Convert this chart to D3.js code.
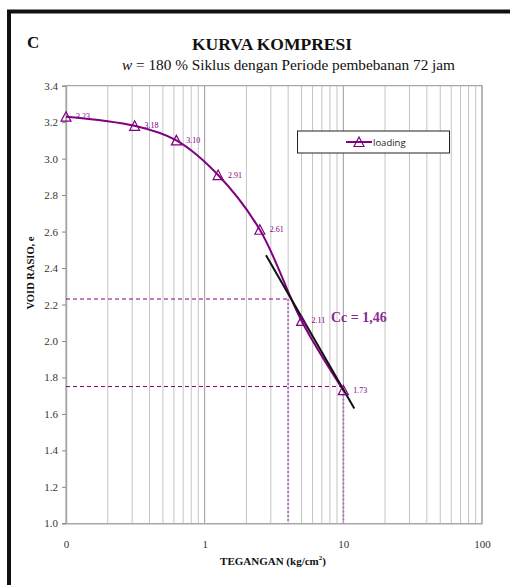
<!DOCTYPE html>
<html>
<head>
<meta charset="utf-8">
<script src="https://cdn.jsdelivr.net/npm/d3@7"></script>
<style>
  body { margin: 0; background: #fff; }
  svg { display: block; }
  .serif { font-family: "Liberation Serif", "Times New Roman", serif; }
</style>
</head>
<body>
<div id="chart"></div>
<script>
// compression data
var loads = [0.1, 0.3125, 0.625, 1.25, 2.5, 5, 10]
var voidRatio = [3.23, 3.18, 3.10, 2.91, 2.61, 2.11, 1.73]

// tangent line for Cc and the two guide points
var tangentLoad = [2.77, 12]
var tangentE = [2.47, 1.63]
var guideLoad = [4, 10]
var guideE = [2.23, 1.75]

var xTicks = [0.1, 1, 10, 100]
var xTickLabels = ["0", "1", "10", "100"]
var yTicks = [1.0, 1.2, 1.4, 1.6, 1.8, 2.0, 2.2, 2.4, 2.6, 2.8, 3.0, 3.2, 3.4]

var purple = "#800080"
var W = 510, H = 585
// plot box (note: "top" is a reserved window prop, so use p*)
var pLeft = 66, pRight = 482, pTop = 85.7, pBottom = 523.3

var svg = d3.select("#chart").append("svg").attr("width", W).attr("height", H)

var x = d3.scaleLog().domain([0.1, 100]).range([pLeft, pRight])
var y = d3.scaleLinear().domain([1.0, 3.4]).range([pBottom, pTop])

// frame (only left and top edges show)
svg.append("path")
    .attr("d", "M9," + H + "V11.5H" + W)
    .attr("fill", "none").attr("stroke", "#111").attr("stroke-width", 4)

// vertical grid
svg.append("g").selectAll("line")
    .data(x.ticks())
    .enter().append("line")
    .attr("x1", function(d) { return x(d) }).attr("x2", function(d) { return x(d) })
    .attr("y1", pTop).attr("y2", pBottom)
    .attr("stroke", function(d) { return xTicks.indexOf(d) >= 0 ? "#9a9a9a" : "#c4c4c4" })
    .attr("stroke-width", 1)

// plot border top/right
svg.append("path")
    .attr("d", "M" + pLeft + "," + pTop + "H" + pRight + "V" + pBottom)
    .attr("fill", "none").attr("stroke", "#a8a8a8").attr("stroke-width", 1.2)

// y axis
var yAxis = svg.append("g")
    .attr("transform", "translate(" + pLeft + ",0)")
    .call(d3.axisLeft(y).tickValues(yTicks).tickFormat(d3.format(".1f")).tickSize(4).tickPadding(4))
yAxis.select(".domain").attr("stroke", "#a8a8a8").attr("stroke-width", 1.5)
yAxis.selectAll(".tick line").attr("stroke", "#888")
yAxis.selectAll("text").attr("class", "serif").attr("font-size", 11).attr("fill", "#333")

// x axis
var xAxis = svg.append("g")
    .attr("transform", "translate(0," + pBottom + ")")
    .call(d3.axisBottom(x).tickValues(xTicks).tickFormat(function(d, i) { return xTickLabels[i] }).tickSize(0).tickPadding(17))
xAxis.select(".domain").attr("stroke", "#a8a8a8").attr("stroke-width", 1.5)
xAxis.selectAll("text").attr("class", "serif").attr("font-size", 11).attr("fill", "#333")

// guide lines
guideLoad.forEach(function(g, i) {
    svg.append("line")
        .attr("x1", pLeft).attr("x2", x(g))
        .attr("y1", y(guideE[i])).attr("y2", y(guideE[i]))
        .attr("stroke", purple).attr("stroke-width", 1).attr("stroke-dasharray", "4,3")
    svg.append("line")
        .attr("x1", x(g)).attr("x2", x(g))
        .attr("y1", y(guideE[i])).attr("y2", pBottom)
        .attr("stroke", "#b478c4").attr("stroke-width", 2).attr("stroke-dasharray", "2,2")
})

// curve
var pts = loads.map(function(d, i) { return { load: d, e: voidRatio[i] } })
var line = d3.line()
    .x(function(d) { return x(d.load) })
    .y(function(d) { return y(d.e) })
    .curve(d3.curveCatmullRom.alpha(0.5))

svg.append("path")
    .datum(pts)
    .attr("d", line)
    .attr("fill", "none").attr("stroke", purple).attr("stroke-width", 2)

// tangent
svg.append("line")
    .attr("x1", x(tangentLoad[0])).attr("y1", y(tangentE[0]))
    .attr("x2", x(tangentLoad[1])).attr("y2", y(tangentE[1]))
    .attr("stroke", "#111").attr("stroke-width", 2)

// markers
var tri = "M0,-5L5,4.5L-5,4.5Z"
svg.append("g").selectAll("path")
    .data(pts)
    .enter().append("path")
    .attr("d", tri)
    .attr("transform", function(d) { return "translate(" + x(d.load) + "," + y(d.e) + ")" })
    .attr("fill", "none").attr("stroke", purple).attr("stroke-width", 1.2)

svg.append("g").selectAll("text")
    .data(pts)
    .enter().append("text")
    .attr("class", "serif")
    .attr("x", function(d) { return x(d.load) + 10 })
    .attr("y", function(d) { return y(d.e) + 2.5 })
    .attr("font-size", 8).attr("fill", purple)
    .text(function(d) { return d3.format(".2f")(d.e) })

// Cc label
svg.append("text").attr("class", "serif")
    .attr("x", 331).attr("y", 322)
    .attr("font-size", 14).attr("font-weight", "bold").attr("fill", "#8b2a8f")
    .text("Cc = 1,46")

// legend
var lg = svg.append("g")
lg.append("rect").attr("x", 297.5).attr("y", 131).attr("width", 152).attr("height", 22)
    .attr("fill", "#fff").attr("stroke", "#222").attr("stroke-width", 1)
lg.append("line").attr("x1", 346).attr("x2", 372).attr("y1", 142).attr("y2", 142)
    .attr("stroke", purple).attr("stroke-width", 2)
lg.append("path").attr("d", tri).attr("transform", "translate(359,142)")
    .attr("fill", "none").attr("stroke", purple).attr("stroke-width", 1.2)
lg.append("text").attr("x", 373).attr("y", 145.5)
    .attr("font-family", "'Open Sans', 'Liberation Sans', sans-serif").attr("font-size", 9.5).attr("fill", "#222")
    .text("loading")

// titles
svg.append("text").attr("class", "serif")
    .attr("x", 27).attr("y", 48)
    .attr("font-size", 17).attr("font-weight", "bold").attr("fill", "#111")
    .text("C")

svg.append("text").attr("class", "serif")
    .attr("x", 272).attr("y", 50).attr("text-anchor", "middle")
    .attr("font-size", 17.5).attr("font-weight", "bold").attr("fill", "#111")
    .text("KURVA KOMPRESI")

// subtitle is wider in the original, stretch it to the same span
var sub = svg.append("text").attr("class", "serif")
    .attr("x", 122).attr("y", 70)
    .attr("textLength", 333).attr("lengthAdjust", "spacingAndGlyphs")
    .attr("font-size", 14).attr("fill", "#111")
sub.append("tspan").attr("font-style", "italic").text("w")
sub.append("tspan").text(" = 180 % Siklus dengan Periode pembebanan 72 jam")

svg.append("text").attr("class", "serif")
    .attr("transform", "translate(34,273) rotate(-90)")
    .attr("text-anchor", "middle")
    .attr("font-size", 10.5).attr("font-weight", "bold").attr("fill", "#111")
    .text("VOID RASIO, e")

var xt = svg.append("text").attr("class", "serif")
    .attr("x", 273).attr("y", 565).attr("text-anchor", "middle")
    .attr("font-size", 11).attr("font-weight", "bold").attr("fill", "#111")
xt.append("tspan").text("TEGANGAN (kg/cm")
xt.append("tspan").attr("font-size", 7).attr("dy", -5).text("2")
xt.append("tspan").attr("dy", 5).text(")")
</script>
</body>
</html>
